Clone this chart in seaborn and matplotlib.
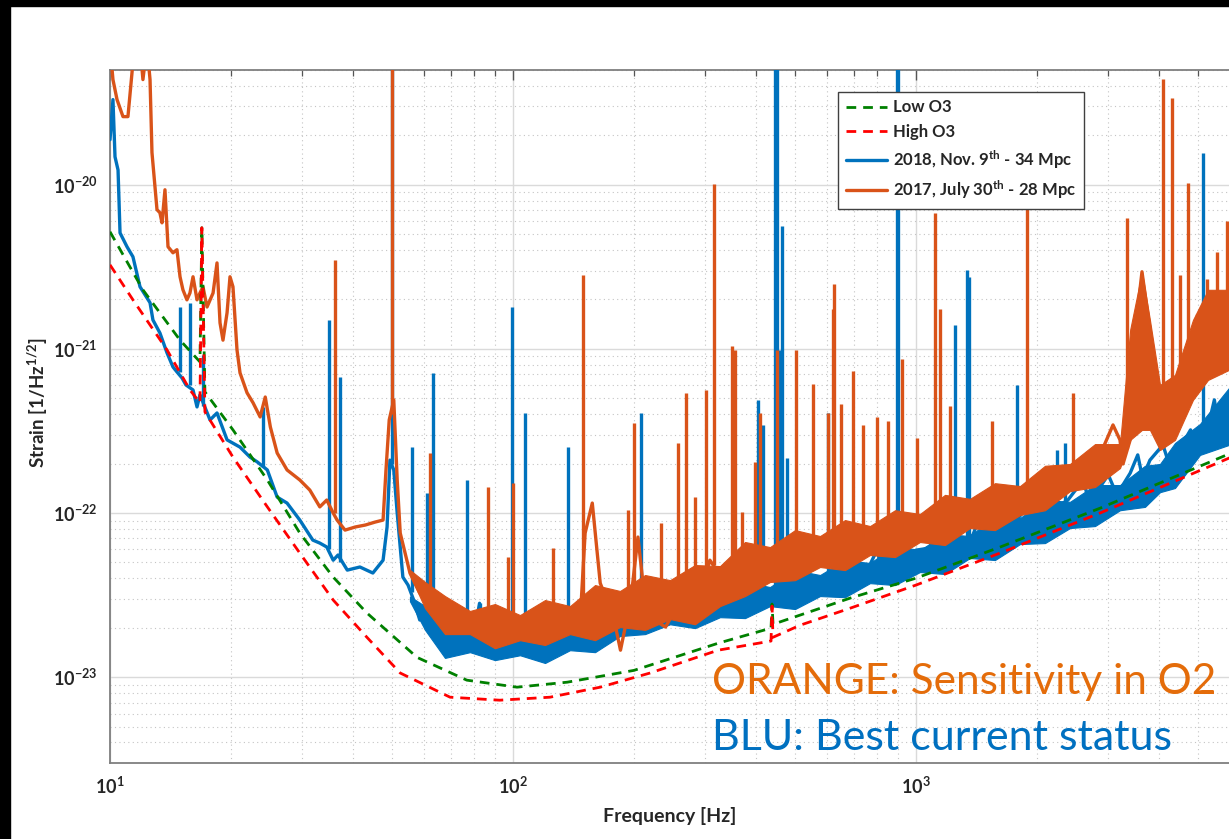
import numpy as np
import pandas as pd
import matplotlib
matplotlib.use("Agg")
import matplotlib.pyplot as plt
import seaborn as sns
from matplotlib.ticker import LogLocator, NullFormatter, FixedLocator, FixedFormatter
from matplotlib.patches import Rectangle

# ---------------- data ----------------
# design curves
low_o3_freq = [10.0, 12.07, 14.92, 16.72, 16.9, 17.2, 20.19, 24.57, 29.58, 35.8, 43.4, 57.8,
               76.8, 102.3, 136.3, 199.6, 322.9, 436.8, 439.3, 441.8, 686, 1000, 1616, 2862,
               5979, 10000]
low_o3_strain = [5.17e-21, 2.29e-21, 1.13e-21, 8.33e-22, 5.47e-21, 5.47e-22, 3.21e-22, 1.59e-22,
                 7.55e-23, 4.07e-23, 2.46e-23, 1.32e-23, 9.59e-24, 8.69e-24, 9.32e-24, 1.10e-23,
                 1.61e-23, 1.99e-23, 2.79e-23, 2.10e-23, 3.03e-23, 4.01e-23, 6.20e-23, 1.07e-22,
                 2.29e-22, 3.85e-22]

high_o3_freq = [10.0, 11.40, 13.85, 15.79, 16.72, 16.9, 17.2, 20.19, 24.57, 29.58, 35.8, 43.4,
                52.5, 69.8, 92.7, 123.5, 164.6, 218.8, 322.9, 436.8, 439.3, 441.8, 515, 686,
                1000, 1616, 2862, 5979, 10000]
high_o3_strain = [3.25e-21, 1.99e-21, 9.86e-22, 5.62e-22, 4.69e-22, 5.47e-21, 4.13e-22, 2.19e-22,
                  1.09e-22, 5.70e-23, 2.95e-23, 1.75e-23, 1.06e-23, 7.55e-24, 7.24e-24, 7.55e-24,
                  8.69e-24, 1.06e-23, 1.46e-23, 1.66e-23, 2.71e-23, 1.75e-23, 2.07e-23, 2.63e-23,
                  3.64e-23, 5.70e-23, 1.0e-22, 2.16e-22, 3.64e-22]

# 2018 Nov 9th (blue): trace, noise band edges, narrow lines
nov2018_freq = [10.0, 10.17, 10.29, 10.47, 10.59, 11.02, 11.40, 11.87, 12.57, 12.78, 13.30, 13.85,
                14.33, 14.66, 15.09, 15.43, 16.07, 16.44, 16.72, 17.31, 17.71, 18.43, 19.52, 21.02,
                22.26, 23.18, 24.57, 25.99, 27.50, 29.58, 31.86, 33.16, 34.50, 35.8, 36.8, 38.8,
                41.7, 44.9, 47.6, 48.7, 49.5, 50.6, 51.6, 53.3, 54.9, 56.7, 58.7, 62.1, 64.6,
                66.9, 68.9, 70.9, 73.9, 79.3, 82.6, 86.1, 89.2, 92.7, 96.2, 101.8, 104.0, 109.4,
                111.7, 117.8, 122.1, 125.6, 131.1, 141.0, 148.5, 152.7, 158.1, 164.6, 171.2, 177.6,
                184.8, 192.8, 199.6, 213.7, 224.0, 233.2, 242.6, 254.0, 265.9, 276.6, 293.6, 309.3,
                322.9, 345.5, 377.3, 409.8, 424.2, 439.3, 470, 486, 515, 530, 551, 570, 616, 640,
                660, 686, 720, 740, 768, 800, 830, 860, 919, 940, 960, 1000, 1081, 1120, 1160,
                1239, 1324, 1384, 1430, 1480, 1527, 1650, 1700, 1764, 1900, 1950, 2024, 2100,
                2150, 2275, 2382, 2600, 2700, 2862, 3000, 3150, 3400, 3550, 3650, 3806, 4100,
                4250, 4521, 4800, 4950, 5215, 5500, 5700, 5979, 10000]
nov2018_strain = [1.88e-20, 3.30e-20, 1.48e-20, 1.23e-20, 5.09e-21, 4.19e-21, 3.64e-21, 2.39e-21,
                  1.91e-21, 1.50e-21, 1.25e-21, 9.46e-22, 7.76e-22, 7.24e-22, 6.65e-22, 6.03e-22,
                  5.62e-22, 4.43e-22, 5.25e-22, 4.25e-22, 3.69e-22, 4.07e-22, 2.79e-22, 2.52e-22,
                  2.19e-22, 2.05e-22, 1.83e-22, 1.25e-22, 1.15e-22, 9.06e-23, 6.84e-23, 6.56e-23,
                  6.21e-23, 5.16e-23, 5.55e-23, 4.49e-23, 4.69e-23, 4.31e-23, 5.16e-23, 8.22e-23,
                  2.10e-22, 1.83e-22, 1.0e-22, 4.07e-23, 3.64e-23, 2.95e-23, 2.23e-23, 2.95e-23,
                  1.85e-23, 1.52e-23, 1.68e-23, 1.52e-23, 1.63e-23, 1.61e-23, 2.82e-23, 1.52e-23,
                  1.36e-23, 1.46e-23, 1.57e-23, 1.36e-23, 1.40e-23, 1.46e-23, 1.32e-23, 1.27e-23,
                  1.46e-23, 1.52e-23, 1.42e-23, 1.52e-23, 1.85e-23, 2.56e-23, 2.07e-23, 2.23e-23,
                  1.85e-23, 1.85e-23, 2.07e-23, 2.32e-23, 1.99e-23, 2.23e-23, 2.49e-23, 2.23e-23,
                  2.56e-23, 2.39e-23, 2.95e-23, 2.56e-23, 2.46e-23, 2.75e-23, 2.67e-23, 2.95e-23,
                  2.56e-23, 2.79e-23, 2.95e-23, 3.03e-23, 3.39e-23, 3.30e-23, 3.54e-23, 4.49e-23,
                  3.90e-23, 3.16e-23, 4.01e-23, 4.82e-23, 3.39e-23, 4.49e-23, 5.16e-23, 3.64e-23,
                  4.82e-23, 5.94e-23, 4.19e-23, 5.16e-23, 5.55e-23, 6.84e-23, 4.82e-23, 5.94e-23,
                  6.12e-23, 7.87e-23, 5.55e-23, 6.38e-23, 6.84e-23, 7.35e-23, 9.06e-23, 6.38e-23,
                  8.11e-23, 1.05e-22, 7.35e-23, 8.81e-23, 1.12e-22, 8.45e-23, 1.01e-22, 1.29e-22,
                  9.06e-23, 1.12e-22, 1.20e-22, 1.59e-22, 1.12e-22, 1.44e-22, 1.71e-22, 1.29e-22,
                  1.75e-22, 2.26e-22, 1.63e-22, 2.10e-22, 2.60e-22, 1.97e-22, 2.49e-22, 3.21e-22,
                  2.26e-22, 2.79e-22, 4.89e-22, 2.79e-22, 3.69e-22, 6.47e-22]
band_freq = [55.5, 60.5, 67.8, 78.2, 90.2, 104.1, 120.1, 138.5, 159.8, 184.3, 212.7, 245.3, 282.9,
             326.4, 376.5, 434.3, 501.0, 578.0, 666.6, 769.0, 887.1, 1023, 1180, 1361, 1570,
             1812, 2090, 2411, 2781, 3208, 3700, 4032, 4392, 5067, 5979, 10000]
nov2018_band_high = [3.1e-23, 2.71e-23, 2.16e-23, 1.88e-23, 2.23e-23, 1.83e-23, 2.10e-23, 1.99e-23,
                     2.71e-23, 2.49e-23, 3.12e-23, 2.79e-23, 3.30e-23, 2.99e-23, 3.80e-23, 3.54e-23,
                     4.49e-23, 4.19e-23, 5.17e-23, 4.96e-23, 6.29e-23, 5.95e-23, 7.45e-23, 7.24e-23,
                     9.59e-23, 9.32e-23, 1.20e-22, 1.17e-22, 1.48e-22, 1.48e-22, 1.94e-22, 1.99e-22,
                     2.67e-22, 3.49e-22, 5.78e-22, 8.57e-22]
nov2018_band_low = [2.9e-23, 1.94e-23, 1.31e-23, 1.42e-23, 1.27e-23, 1.36e-23, 1.22e-23, 1.46e-23,
                    1.42e-23, 1.78e-23, 1.83e-23, 2.10e-23, 1.99e-23, 2.32e-23, 2.29e-23, 2.71e-23,
                    2.60e-23, 3.12e-23, 3.07e-23, 3.74e-23, 3.64e-23, 4.37e-23, 4.25e-23, 5.32e-23,
                    5.17e-23, 6.47e-23, 6.56e-23, 8.10e-23, 8.33e-23, 1.04e-22, 1.09e-22, 1.34e-22,
                    1.42e-22, 2.26e-22, 2.60e-22, 3.69e-22]
nov2018_line_freq = [14.92, 15.79, 17.01, 24.0, 34.9, 37.2, 50.0, 56.1, 61.2, 63.2, 76.8, 82.6,
                     99.5, 107.0, 137.1, 207.8, 405.0, 416.9, 447.5, 451.5, 459.7, 465, 478, 605,
                     896, 900, 1250, 1339, 1352, 1781, 2238, 2342, 5155]
nov2018_line_base = [7.2e-22, 6.0e-22, 4.5e-22, 1.9e-22, 6.0e-23, 5.0e-23, 2.0e-22, 3.3e-23,
                     2.5e-23, 2.5e-23, 1.6e-23, 1.6e-23, 1.5e-23, 1.4e-23, 1.5e-23, 2.1e-23,
                     2.9e-23, 2.9e-23, 3.0e-23, 3.0e-23, 3.3e-23, 3.3e-23, 3.3e-23, 4.0e-23,
                     5.3e-23, 5.3e-23, 6.5e-23, 7.0e-23, 7.0e-23, 9.0e-23, 1.1e-22, 1.15e-22,
                     2.8e-22]
nov2018_line_top = [1.80e-21, 1.91e-21, 9.18e-22, 4.43e-22, 1.50e-21, 6.75e-22, 1e-19, 2.52e-22,
                    1.32e-22, 7.14e-22, 1.59e-22, 2.82e-23, 1.80e-21, 4.07e-22, 2.52e-22, 4.07e-22,
                    4.89e-22, 3.44e-22, 1e-19, 1e-19, 9.86e-22, 5.62e-21, 2.16e-22, 4.07e-22,
                    1e-19, 1e-19, 1.40e-21, 3.03e-21, 2.75e-21, 6.03e-22, 2.42e-22, 2.67e-22,
                    1.55e-20]

# 2017 July 30th (orange): trace, noise band edges, narrow lines
jul2017_freq = [10.0, 10.17, 10.41, 10.77, 11.08, 11.34, 11.46, 11.87, 12.07, 12.35, 12.57, 12.71,
                13.08, 13.30, 13.46, 13.69, 13.93, 14.33, 14.66, 14.92, 15.17, 15.52, 15.79, 16.07,
                16.44, 16.72, 17.01, 17.41, 18.02, 18.43, 18.75, 19.07, 19.52, 19.85, 20.19, 20.66,
                21.02, 21.88, 22.65, 23.58, 24.28, 25.0, 25.99, 27.50, 29.58, 31.32, 33.16, 34.50,
                35.8, 36.6, 38.3, 40.6, 43.0, 45.5, 47.6, 48.4, 49.3, 50.6, 51.6, 52.5, 55.5, 58.7,
                61.2, 62.8, 64.6, 66.9, 70.9, 76.8, 84.1, 88.6, 92.7, 102.3, 108.3, 116.6, 127.9,
                136.3, 146.8, 151.0, 157.3, 164.6, 177.6, 184.8, 196, 204.2, 213.7, 224.0, 239,
                261, 275, 291, 308, 320, 332, 361, 380, 403, 417, 434, 442, 460, 480, 511, 535,
                563, 586, 616, 638, 662, 712, 758, 819, 869, 940, 1030, 1135, 1171, 1235, 1361,
                1570, 1716, 1917, 2150, 2488, 2862, 3082, 3207, 3263, 3400, 3572, 3637, 3806,
                3963, 4032, 4170, 4390, 4626, 4840, 5100, 5400, 5720, 5979, 10000]
jul2017_strain = [7e-20, 4.37e-20, 3.30e-20, 2.60e-20, 2.60e-20, 4.82e-20, 7e-20, 7e-20, 4.37e-20,
                  7e-20, 4.37e-20, 1.57e-20, 7.05e-21, 6.75e-21, 5.86e-21, 9.32e-21, 4.19e-21,
                  3.85e-21, 4.02e-21, 2.75e-21, 2.29e-21, 1.99e-21, 2.19e-21, 2.75e-21, 1.99e-21,
                  2.19e-21, 2.39e-21, 1.80e-21, 2.19e-21, 3.34e-21, 1.44e-21, 1.13e-21, 1.66e-21,
                  2.75e-21, 2.39e-21, 9.86e-22, 7.14e-22, 5.40e-22, 4.69e-22, 3.85e-22, 5.09e-22,
                  3.34e-22, 2.32e-22, 1.83e-22, 1.59e-22, 1.38e-22, 1.09e-22, 1.20e-22, 1.0e-22,
                  9.06e-23, 7.87e-23, 8.22e-23, 8.45e-23, 8.81e-23, 9.06e-23, 1.83e-22, 3.69e-22,
                  4.89e-22, 1.59e-22, 7.55e-23, 4.31e-23, 3.25e-23, 3.39e-23, 3.16e-23, 2.95e-23,
                  2.56e-23, 2.23e-23, 2.02e-23, 1.94e-23, 1.94e-23, 1.85e-23, 1.85e-23, 2.13e-23,
                  1.94e-23, 2.02e-23, 1.94e-23, 2.23e-23, 7.55e-23, 1.15e-22, 3.74e-23, 2.32e-23,
                  1.46e-23, 2.95e-23, 7.14e-23, 2.56e-23, 2.23e-23, 2.02e-23, 2.95e-23, 2.95e-23,
                  3.25e-23, 5.16e-23, 4.49e-23, 3.90e-23, 5.16e-23, 4.49e-23, 5.16e-23, 4.49e-23,
                  5.16e-23, 5.94e-23, 5.55e-23, 6.84e-23, 6.38e-23, 6.38e-23, 6.38e-23, 5.94e-23,
                  6.84e-23, 6.84e-23, 7.35e-23, 7.87e-23, 8.11e-23, 7.87e-23, 8.45e-23, 8.45e-23,
                  9.06e-23, 9.33e-23, 9.54e-23, 1.01e-22, 1.12e-22, 1.20e-22, 1.29e-22, 1.38e-22,
                  1.71e-22, 1.83e-22, 2.26e-22, 3.44e-22, 2.79e-22, 1.99e-22, 2.79e-22, 1.99e-21,
                  2.95e-21, 1.32e-21, 5.86e-22, 4.89e-22, 4.89e-22, 6.47e-22, 6.47e-22, 9.86e-22,
                  8.57e-22, 9.86e-22, 1.13e-21, 1.31e-21, 1.99e-21]
jul2017_band_freq = [55.5, 60.5, 67.8, 78.2, 90.2, 104.1, 120.1, 138.5, 159.8, 184.3, 212.7, 245.3,
                     282.9, 326.4, 376.5, 434.3, 501.0, 578.0, 666.6, 769.0, 887.1, 1023, 1180,
                     1361, 1570, 1812, 2090, 2411, 2781, 3208, 3400, 3637, 3806, 4032, 4392, 4867,
                     5304, 5979, 10000]
jul2017_band_high = [4.5e-23, 3.80e-23, 3.12e-23, 2.53e-23, 2.79e-23, 2.39e-23, 2.95e-23, 2.71e-23,
                     3.64e-23, 3.35e-23, 4.19e-23, 3.90e-23, 4.82e-23, 4.75e-23, 6.66e-23, 6.20e-23,
                     7.87e-23, 7.24e-23, 9.06e-23, 8.33e-23, 1.04e-22, 9.86e-23, 1.29e-22, 1.22e-22,
                     1.52e-22, 1.46e-22, 1.94e-22, 1.99e-22, 2.63e-22, 2.63e-22, 1.31e-21, 2.95e-21,
                     1.50e-21, 6.03e-22, 6.94e-22, 1.50e-21, 2.29e-21, 2.29e-21, 2.63e-21]
jul2017_band_low = [4.2e-23, 2.63e-23, 1.83e-23, 1.83e-23, 1.50e-23, 1.68e-23, 1.57e-23, 1.83e-23,
                    1.68e-23, 2.02e-23, 1.94e-23, 2.26e-23, 2.10e-23, 2.71e-23, 3.12e-23, 3.80e-23,
                    3.90e-23, 4.69e-23, 4.49e-23, 5.55e-23, 5.39e-23, 6.66e-23, 6.38e-23, 8.10e-23,
                    7.87e-23, 9.72e-23, 1.04e-22, 1.36e-22, 1.44e-22, 1.88e-22, 2.79e-22, 3.21e-22,
                    3.21e-22, 2.42e-22, 2.79e-22, 4.89e-22, 6.47e-22, 7.45e-22, 7.45e-22]
jul2017_line_freq = [36.2, 50.0, 62.1, 86.6, 97.3, 100, 125.6, 149.3, 192.8, 199.6, 233.2, 256.9,
                     269.0, 283, 301.8, 314.5, 349, 355, 371, 398, 410, 452, 503, 555, 605, 622,
                     626, 650, 697, 737, 800, 850, 925, 1006, 1116, 1150, 1214, 1544, 1886, 2452,
                     3339, 4102, 4318, 4521, 4731, 4981, 5275, 5584, 5911]
jul2017_line_base = [1.0e-22, 4.0e-22, 3.2e-23, 1.94e-23, 2.0e-23, 1.9e-23, 2.0e-23, 2.3e-23,
                     2.0e-23, 2.5e-23, 2.2e-23, 2.5e-23, 2.9e-23, 3.0e-23, 4.0e-23, 4.8e-23,
                     4.5e-23, 4.5e-23, 4.8e-23, 5.0e-23, 5.0e-23, 5.7e-23, 6.5e-23, 6.4e-23,
                     6.4e-23, 6.8e-23, 6.8e-23, 7.0e-23, 7.5e-23, 8.0e-23, 8.0e-23, 8.2e-23,
                     8.5e-23, 8.8e-23, 9.2e-23, 9.4e-23, 1.0e-22, 1.2e-22, 1.35e-22, 1.8e-22,
                     2.5e-22, 5.0e-22, 5.5e-22, 6.5e-22, 8.0e-22, 9.0e-22, 9.5e-22, 1.05e-21,
                     1.2e-21]
jul2017_line_top = [3.49e-21, 1e-19, 2.32e-22, 1.44e-22, 5.40e-23, 1.52e-22, 6.12e-23, 2.82e-21,
                    1.04e-22, 3.54e-22, 8.69e-23, 2.67e-22, 5.40e-22, 1.25e-22, 5.62e-22, 1.01e-20,
                    1.04e-21, 9.86e-22, 1.01e-22, 2.05e-22, 4.07e-22, 9.86e-22, 9.86e-22, 6.12e-22,
                    4.07e-22, 1.75e-21, 2.49e-21, 4.62e-22, 7.35e-22, 3.44e-22, 3.85e-22, 3.64e-22,
                    8.69e-22, 2.86e-22, 6.75e-21, 1.75e-21, 4.49e-22, 3.64e-22, 8.69e-21, 5.40e-22,
                    6.30e-21, 4.43e-20, 3.39e-20, 2.82e-21, 1.03e-20, 1.63e-21, 2.67e-21, 3.90e-21,
                    6.03e-21]

series_labels = ["Low O3", "High O3", "2018, Nov. 9$^{th}$ - 34 Mpc", "2017, July 30$^{th}$ - 28 Mpc"]
x_tick_values = [10, 100, 1000]
x_tick_labels = ["$10^{1}$", "$10^{2}$", "$10^{3}$"]
y_tick_values = [1e-23, 1e-22, 1e-21, 1e-20]
y_tick_labels = ["$10^{-23}$", "$10^{-22}$", "$10^{-21}$", "$10^{-20}$"]

# ---------------- style ----------------
sns.set_style("white")
plt.rcParams['font.family'] = ['Lato', 'DejaVu Sans']
plt.rcParams['mathtext.fontset'] = 'custom'
plt.rcParams['mathtext.rm'] = 'Lato:bold'
plt.rcParams['mathtext.it'] = 'Lato:bold'
plt.rcParams['mathtext.bf'] = 'Lato:bold'
plt.rcParams['mathtext.default'] = 'rm'

BLUE = '#0072BD'
ORANGE = '#D95319'
GREEN = '#008000'
RED = '#FF0000'
TXT = '#262626'

W, H = 1229, 839
fig = plt.figure(figsize=(W / 100, H / 100), dpi=100)
fig.patch.set_facecolor('white')
ax = fig.add_axes([110 / W, 76 / H, 1209 / W, 693 / H])
ax.set_xscale('log')
ax.set_yscale('log')

df_blue = pd.DataFrame({'f': nov2018_freq, 'h': nov2018_strain})
df_orange = pd.DataFrame({'f': jul2017_freq, 'h': jul2017_strain})
df_low = pd.DataFrame({'f': low_o3_freq, 'h': low_o3_strain})
df_high = pd.DataFrame({'f': high_o3_freq, 'h': high_o3_strain})

# blue measurement
ax.fill_between(band_freq, nov2018_band_low, nov2018_band_high, color=BLUE, lw=0.8,
                edgecolor=BLUE, zorder=3)
sns.lineplot(data=df_blue, x='f', y='h', estimator=None, sort=False, color=BLUE, lw=2.4,
             ax=ax, label=series_labels[2], zorder=3)
ax.vlines(nov2018_line_freq, nov2018_line_base, nov2018_line_top, color=BLUE, lw=2.4, zorder=3)
# orange measurement
ax.fill_between(jul2017_band_freq, jul2017_band_low, jul2017_band_high, color=ORANGE, lw=0.8,
                edgecolor=ORANGE, zorder=4)
sns.lineplot(data=df_orange, x='f', y='h', estimator=None, sort=False, color=ORANGE, lw=2.4,
             ax=ax, label=series_labels[3], zorder=4)
ax.vlines(jul2017_line_freq, jul2017_line_base, jul2017_line_top, color=ORANGE, lw=2.4, zorder=4)
# design curves
sns.lineplot(data=df_low, x='f', y='h', estimator=None, sort=False, color=GREEN, lw=2.0,
             ax=ax, label=series_labels[0], zorder=5)
sns.lineplot(data=df_high, x='f', y='h', estimator=None, sort=False, color=RED, lw=2.0,
             ax=ax, label=series_labels[1], zorder=6)
for ln in ax.get_lines():
    if ln.get_label() in series_labels[:2]:
        ln.set_dashes((3.5, 2.5))

ax.set_xlim(10, 10000)
ax.set_ylim(3.0e-24, 5.0e-20)

ax.xaxis.set_major_locator(FixedLocator(x_tick_values))
ax.xaxis.set_major_formatter(FixedFormatter(x_tick_labels))
ax.yaxis.set_major_locator(FixedLocator(y_tick_values))
ax.yaxis.set_major_formatter(FixedFormatter(y_tick_labels))
ax.xaxis.set_minor_locator(LogLocator(base=10, subs=np.arange(2, 10)))
ax.yaxis.set_minor_locator(LogLocator(base=10, subs=np.arange(2, 10)))
ax.xaxis.set_minor_formatter(NullFormatter())
ax.yaxis.set_minor_formatter(NullFormatter())

ax.set_axisbelow(True)
ax.grid(True, which='major', color='#dadada', lw=1.0, ls='-')
ax.grid(True, which='minor', color='#c4c4c4', lw=0.8, ls=(0, (1, 3)))

for sp in ax.spines.values():
    sp.set_color('#7f7f7f')
    sp.set_linewidth(1.3)
ax.tick_params(which='both', direction='in', top=True, right=True, colors='#555555')
ax.tick_params(which='major', length=7, width=1.0, labelsize=13, labelcolor=TXT, pad=9)
ax.tick_params(which='minor', length=4, width=0.9)
ax.set_xlabel('')
ax.set_ylabel('')

handles, labels = ax.get_legend_handles_labels()
order = [labels.index(l) for l in series_labels]
leg = ax.legend([handles[i] for i in order], [labels[i] for i in order],
                loc='upper left', bbox_to_anchor=(838 / W, 1 - 92 / H),
                bbox_transform=fig.transFigure, frameon=True, fancybox=False,
                edgecolor='#404040', framealpha=1, prop={'weight': 'bold', 'size': 12},
                handlelength=2.5, borderpad=0.45, labelspacing=0.5, handletextpad=0.35,
                borderaxespad=0)
leg.get_frame().set_linewidth(1.0)
leg.set_zorder(10)
for t in leg.get_texts():
    t.set_color(TXT)

fig.text(670 / W, 1 - 816 / H, "Frequency [Hz]", fontweight='bold', fontsize=14,
         ha='center', va='center', color=TXT)
fig.text(38 / W, 1 - 403 / H, "Strain [1/Hz$^{1/2}$]", fontweight='bold', fontsize=13.5,
         ha='center', va='center', rotation=90, color=TXT)

fig.text(712 / W, 1 - 682 / H, "ORANGE: Sensitivity in O2", color='#E46C0A', fontsize=30.5,
         ha='left', va='center')
fig.text(712 / W, 1 - 738 / H, "BLU: Best current status", color='#0070C0', fontsize=31,
         ha='left', va='center')

# black frame strips of the slide
fig.patches.append(Rectangle((0, 1 - 6 / H), 1, 6 / H, transform=fig.transFigure,
                             color='black', zorder=20))
fig.patches.append(Rectangle((0, 0), 10 / W, 1, transform=fig.transFigure,
                             color='black', zorder=20))

fig.savefig('out.png', dpi=100)
